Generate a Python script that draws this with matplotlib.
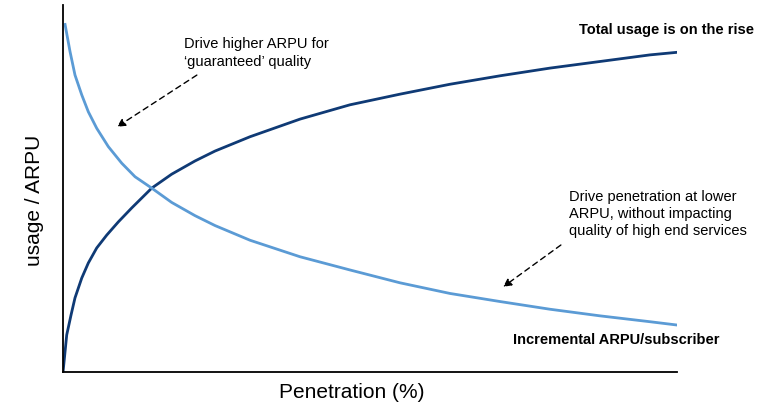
import matplotlib
matplotlib.use("Agg")
import matplotlib.pyplot as plt

plt.rcParams["font.family"] = ["Liberation Sans", "DejaVu Sans"]

# Total usage (dark curve), penetration % vs relative level
USAGE_X = [0, 0.60, 1.30, 1.95, 3.05, 4.12, 5.49, 7.12, 9.01, 11.19, 14.45, 17.70,
           21.50, 24.76, 30.46, 38.60, 46.74, 54.89, 63.03, 71.17, 79.32, 87.46, 95.60, 100]
USAGE_Y = [0, 10.1, 15.5, 20.2, 25.6, 29.7, 33.8, 37.3, 40.9, 44.7, 50.1, 53.9,
           57.5, 60.2, 64.1, 68.9, 72.8, 75.7, 78.4, 80.7, 82.8, 84.6, 86.4, 87.1]

# Incremental ARPU per subscriber (light curve)
ARPU_X = [0.33, 1.14, 1.95, 3.05, 4.12, 5.49, 7.38, 9.56, 11.73, 14.45, 17.70, 21.50,
          24.76, 30.46, 38.60, 46.74, 54.89, 63.03, 71.17, 79.32, 87.46, 95.60, 100]
ARPU_Y = [94.7, 87.3, 80.9, 75.5, 70.9, 66.4, 61.4, 56.9, 53.2, 50.1, 46.2, 42.6,
          39.9, 35.9, 31.4, 27.8, 24.3, 21.4, 19.2, 17.1, 15.3, 13.7, 12.8]

DARK = "#0f3a75"
LIGHT = "#5b9bd5"

fig = plt.figure(figsize=(7.64, 4.05), dpi=100)
ax = fig.add_axes([0.0825, 0.0815, 0.8035, 0.9062])

ax.plot(USAGE_X, USAGE_Y, color=DARK, lw=2.0, solid_joinstyle="round")
ax.plot(ARPU_X, ARPU_Y, color=LIGHT, lw=2.0, solid_joinstyle="round")

ax.set_xlim(0, 100)
ax.set_ylim(0, 100)
ax.set_xticks([])
ax.set_yticks([])
for side in ("top", "right"):
    ax.spines[side].set_visible(False)
for side in ("left", "bottom"):
    ax.spines[side].set_linewidth(1.3)
    ax.spines[side].set_color("black")

arrow = dict(arrowstyle="-|>", linestyle=(0, (4, 3)), color="black",
             lw=1.0, mutation_scale=12, shrinkA=0, shrinkB=0)

ax.annotate("", xy=(8.8, 66.8), xytext=(21.8, 80.9), arrowprops=arrow)
ax.annotate("", xy=(71.7, 23.2), xytext=(81.1, 34.6), arrowprops=arrow)

ax.text(19.7, 86.9, "Drive higher ARPU for\n\u2018guaranteed\u2019 quality",
        fontsize=10.5, ha="left", va="center", linespacing=1.3)
ax.text(82.4, 43.0, "Drive penetration at lower\nARPU, without impacting\nquality of high end services",
        fontsize=10.5, ha="left", va="center", linespacing=1.25)

ax.text(84.0, 93.2, "Total usage is on the rise", fontsize=10.5,
        fontweight="bold", ha="left", va="center")
ax.text(73.3, 8.7, "Incremental ARPU/subscriber", fontsize=10.5,
        fontweight="bold", ha="left", va="center")

fig.text(0.461, 0.032, "Penetration (%)", fontsize=15, ha="center", va="center")
fig.text(0.045, 0.506, "usage / ARPU", fontsize=15, ha="center", va="center",
         rotation=90)

fig.savefig("out.png", dpi=100)
